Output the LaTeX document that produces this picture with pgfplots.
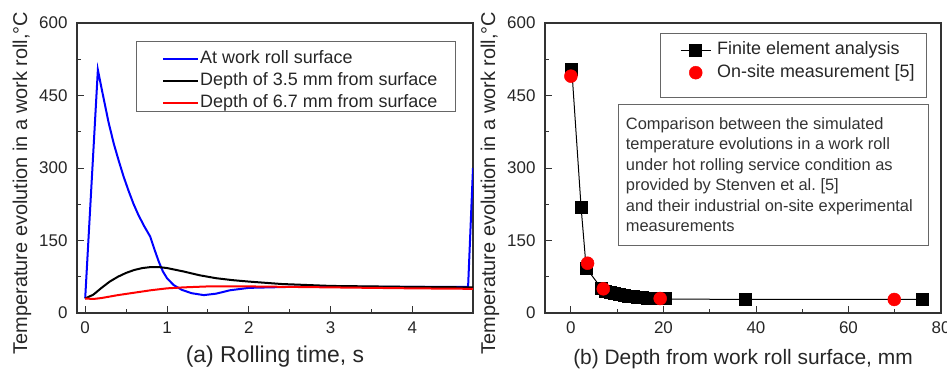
\documentclass[border=0pt]{standalone}
\usepackage{fontspec}
\setmainfont{Liberation Sans}
\usepackage{pgfplots}
\pgfplotsset{compat=1.18}
\begin{document}
\begin{tikzpicture}
\useasboundingbox (0,0) rectangle (947bp,372bp);
\pgfplotsset{
  myaxis/.style={
    scale only axis, width=396bp, height=290bp, anchor=south west,
    axis line style={line width=1.1bp, black!80},
    ymin=0, ymax=600, ytick={0,150,...,600}, minor y tick num=1,
    tick align=inside, xtick pos=bottom, ytick pos=left,
    major tick length=7bp, minor tick length=4bp,
    tick style={line width=0.9bp, black!80},
    /pgf/number format/assume math mode=true,
    tick label style={font=\fontsize{17}{20}\selectfont, text=black!85},
    yticklabel style={xshift=-6bp},
    xticklabel style={yshift=-5bp},
    ylabel={Temperature evolution in a work roll,°C},
    every axis y label/.style={at={(axis description cs:-0.139,0.448)}, rotate=90, anchor=center, font=\fontsize{20}{24}\selectfont, text=black!85},
    legend cell align=left,
  }
}
% ---------------- (a) ----------------
\begin{axis}[myaxis, at={(77bp,59bp)},
  xmin=-0.1, xmax=4.74, xtick={0,1,2,3,4}, minor x tick num=1,
  xlabel={(a) Rolling time, s},
  every axis x label/.style={at={(axis description cs:0.5,-0.169)}, anchor=base, font=\fontsize{23}{27}\selectfont, text=black!85},
  legend image code/.code={\draw[#1] (0bp,0bp) -- (35bp,0bp);},
  legend style={at={(0.2146,0.910)}, anchor=north west, draw=none, fill=none,
    font=\fontsize{18}{21}\selectfont, text=black!85, inner sep=0pt, row sep=3bp,
    nodes={inner xsep=1bp, inner ysep=1bp, text height=13bp, text depth=4bp}},
]
\addplot[blue, line width=2bp] coordinates {
(0,30) (0.155,503) (0.2,465) (0.285,395) (0.35,350) (0.41,315) (0.47,282) (0.53,253)
(0.59,226) (0.65,203) (0.72,180) (0.795,158) (0.85,130) (0.9,106) (0.95,86) (1.0,72)
(1.08,58) (1.18,48) (1.3,41) (1.45,37) (1.6,40) (1.77,47) (2.0,52) (2.5,54) (3,54)
(4,54) (4.68,54) (4.74,300)};
\addlegendentry{At work roll surface}
\addplot[black, line width=2bp] coordinates {
(0,30) (0.1,38) (0.2,52) (0.3,65) (0.4,75) (0.5,83) (0.6,89) (0.7,93) (0.8,95) (0.9,95)
(1.0,93) (1.2,86) (1.4,78) (1.6,72) (1.8,68) (2.0,65) (2.4,60) (3.0,56) (4.0,54) (4.74,53)};
\addlegendentry{Depth of 3.5 mm from surface}
\addplot[red, line width=2bp] coordinates {
(0,30) (0.1,29) (0.2,31) (0.4,37) (0.6,42) (0.8,47) (1.0,51) (1.2,53) (1.5,55) (2,55)
(3,53) (4,51) (4.74,50)};
\addlegendentry{Depth of 6.7 mm from surface}
\end{axis}
\draw[black!60, line width=0.8bp] (136bp,261bp) rectangle (455bp,331bp);
% ---------------- (b) ----------------
\begin{axis}[myaxis, at={(545bp,59bp)},
  xmin=-5.6, xmax=80, xtick={0,20,40,60,80}, minor x tick num=1,
  xlabel={(b) Depth from work roll surface, mm},
  every axis x label/.style={at={(axis description cs:0.5,-0.176)}, anchor=base, font=\fontsize{21}{25}\selectfont, text=black!85},
  legend image code/.code={\draw[mark repeat=2, mark phase=2, #1] plot coordinates {(0bp,0bp) (15bp,0bp) (30bp,0bp)};},
  legend style={at={(0.341,0.939)}, anchor=north west, draw=none, fill=none,
    font=\fontsize{18}{21}\selectfont, text=black!85, inner sep=0pt, row sep=3.3bp,
    nodes={inner xsep=6bp, inner ysep=1bp, text height=13bp, text depth=4bp}},
]
\addplot[black, line width=1bp, mark=square*, mark size=6bp, mark options={solid, fill=black}] coordinates {
(0.2,503) (2.2,219) (3.3,93) (6.7,50) (7.5,45) (8.5,42) (9.5,40) (10.5,38) (11.5,36)
(12.5,35) (13.5,34) (14.5,33) (15.5,32) (16.5,31) (17.5,30) (18.5,30) (19.5,29) (20.5,29)
(37.7,28) (75.9,28)};
\addlegendentry{Finite element analysis}
\addplot[only marks, mark=*, mark size=6.5bp, mark options={draw=red, fill=red}] coordinates {
(0,490) (3.6,103) (7,50) (19.3,30) (69.9,28)};
\addlegendentry{On-site measurement [5]}
\end{axis}
\draw[black!60, line width=0.8bp] (660bp,275bp) rectangle (926bp,339bp);
\draw[black!60, line width=0.8bp] (618bp,127bp) rectangle (928bp,268bp);
\node[anchor=north west, inner sep=0pt, align=left, font=\fontsize{16.5}{20.6}\selectfont, text=black!80] at (625.7bp,255bp)
{Comparison between the simulated\\temperature evolutions in a work roll\\under hot rolling service condition as\\provided by Stenven et al.\ [5]\\and their industrial on-site experimental\\measurements};
\end{tikzpicture}
\end{document}
